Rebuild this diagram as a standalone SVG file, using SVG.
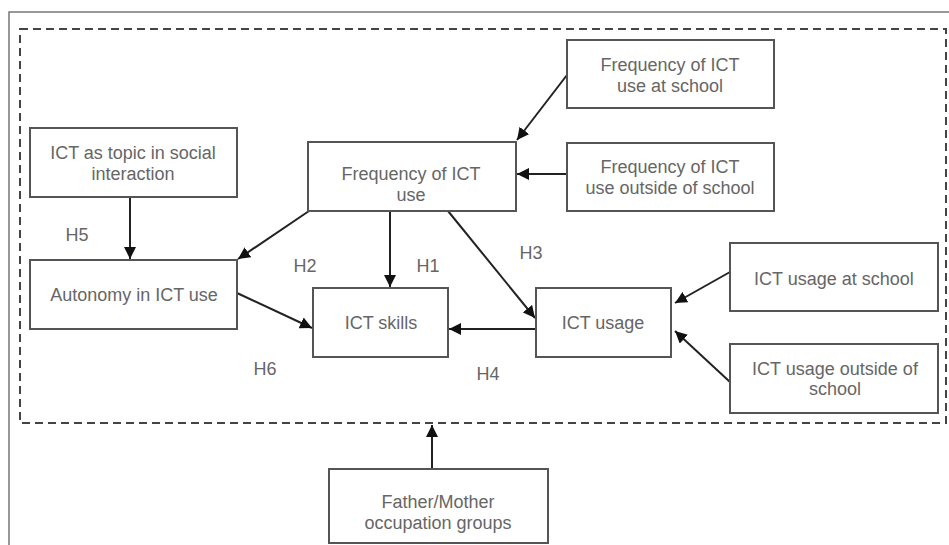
<svg xmlns="http://www.w3.org/2000/svg" width="949" height="545" viewBox="0 0 949 545">
<style>
.box{fill:#fff;stroke:#555;stroke-width:2}
.t{font-family:"Liberation Sans",Arial,sans-serif;font-size:18px;fill:#666;text-anchor:middle}
.c{stroke:#222;stroke-width:2;fill:none;marker-end:url(#ah)}
</style>
<defs>
<marker id="ah" viewBox="0 0 10 10" refX="10" refY="5" markerWidth="6" markerHeight="6" markerUnits="strokeWidth" orient="auto">
<path d="M0,0 L10,5 L0,10 z" fill="#111"/>
</marker>
</defs>
<rect width="949" height="545" fill="#fff"/>
<path d="M9,545 V12 H949" fill="none" stroke="#777" stroke-width="1.5"/>
<rect x="20" y="29" width="926" height="394" fill="none" stroke="#444" stroke-width="2" stroke-dasharray="8,5"/>
<g id="connectors">
<line class="c" x1="130" y1="197" x2="130" y2="259"/>
<line class="c" x1="309" y1="211" x2="238" y2="259"/>
<line class="c" x1="390" y1="211" x2="390" y2="287"/>
<line class="c" x1="448" y1="211" x2="535" y2="318"/>
<line class="c" x1="536" y1="329" x2="449" y2="329"/>
<line class="c" x1="237" y1="293" x2="312" y2="328"/>
<line class="c" x1="567" y1="75" x2="517" y2="140"/>
<line class="c" x1="567" y1="174" x2="517" y2="174"/>
<line class="c" x1="730" y1="272" x2="675" y2="303"/>
<line class="c" x1="730" y1="382" x2="675" y2="331"/>
<line class="c" x1="432" y1="469" x2="432" y2="425"/>
</g>
<g id="n-topic"><rect class="box" x="30" y="128" width="207" height="69"/><text class="t" x="133" y="159">ICT as topic in social</text><text class="t" x="133" y="180">interaction</text></g>
<g id="n-freq"><rect class="box" x="308" y="142" width="208" height="69"/><text class="t" x="411" y="180">Frequency of ICT</text><text class="t" x="411" y="201">use</text></g>
<g id="n-freq-school"><rect class="box" x="567" y="40" width="207" height="68"/><text class="t" x="670" y="71">Frequency of ICT</text><text class="t" x="670" y="92">use at school</text></g>
<g id="n-freq-out"><rect class="box" x="567" y="143" width="207" height="68"/><text class="t" x="670" y="173">Frequency of ICT</text><text class="t" x="670" y="194">use outside of school</text></g>
<g id="n-autonomy"><rect class="box" x="30" y="260" width="207" height="69"/><text class="t" x="134" y="301">Autonomy in ICT use</text></g>
<g id="n-skills"><rect class="box" x="313" y="288" width="135" height="69"/><text class="t" x="381" y="329">ICT skills</text></g>
<g id="n-usage"><rect class="box" x="536" y="288" width="135" height="69"/><text class="t" x="603" y="329">ICT usage</text></g>
<g id="n-usage-school"><rect class="box" x="730" y="243" width="208" height="68"/><text class="t" x="834" y="285">ICT usage at school</text></g>
<g id="n-usage-out"><rect class="box" x="730" y="344" width="208" height="69"/><text class="t" x="835" y="375">ICT usage outside of</text><text class="t" x="835" y="395">school</text></g>
<g id="n-parent"><rect class="box" x="329" y="469" width="219" height="74"/><text class="t" x="438" y="508">Father/Mother</text><text class="t" x="438" y="529">occupation groups</text></g>
<g id="labels">
<text class="t" x="77" y="241">H5</text>
<text class="t" x="305" y="272">H2</text>
<text class="t" x="428" y="272">H1</text>
<text class="t" x="531" y="259">H3</text>
<text class="t" x="265" y="375">H6</text>
<text class="t" x="488" y="380">H4</text>
</g>
</svg>
